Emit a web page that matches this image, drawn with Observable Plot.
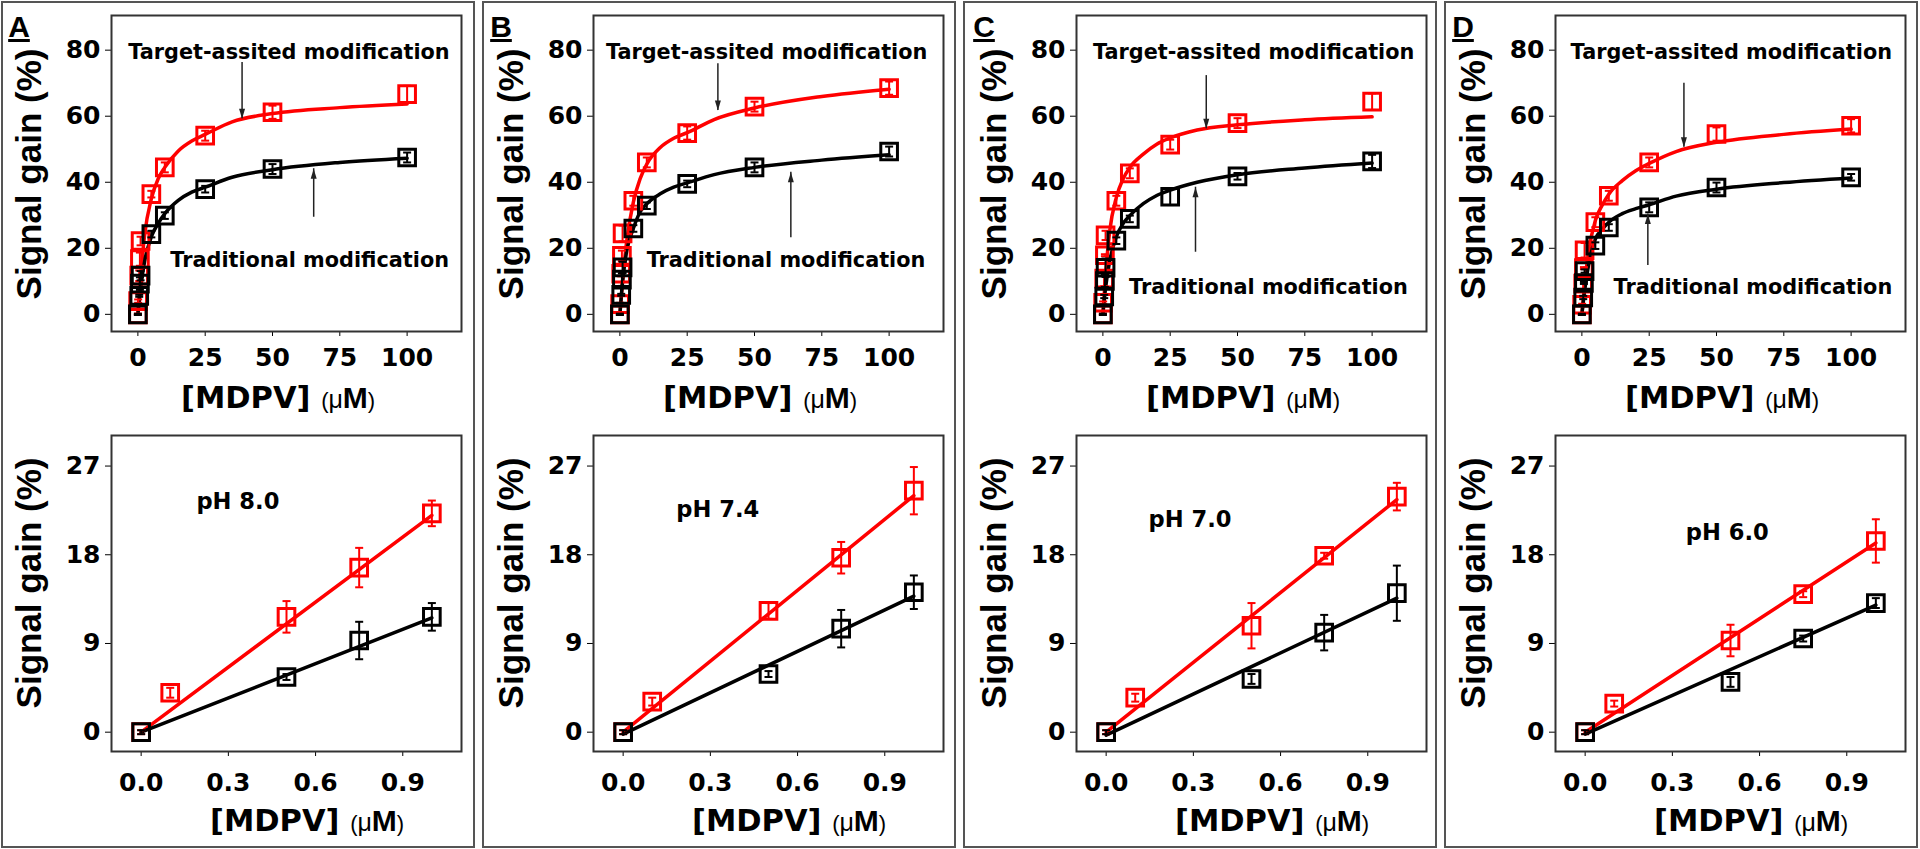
<!DOCTYPE html>
<html><head><meta charset="utf-8">
<script src="https://cdn.jsdelivr.net/npm/d3@7"></script>
<script src="https://cdn.jsdelivr.net/npm/@observablehq/plot@0.6"></script>
<style>
html,body{margin:0;padding:0;background:#fff;}
body{width:1920px;height:849px;position:relative;overflow:hidden;}
.box{position:absolute;border:2px solid #555;box-sizing:border-box;}
.pl{position:absolute;}
.pl svg{max-width:none;overflow:visible;display:block;}
</style></head><body>
<script>
// ---------- shared categories / ticks ----------
const panels = ["A", "B", "C", "D"];
const phLabels = ["pH 8.0", "pH 7.4", "pH 7.0", "pH 6.0"];
const concLow = [0, 0.1, 0.5, 0.75, 1];
const concHigh = [5, 10, 25, 50, 100];
const fitConc = [0, 1, 2.5, 5, 7.5, 10, 15, 20, 25, 35, 50, 75, 100];
const lineConc = [0, 1];
const xTicksTop = [0, 25, 50, 75, 100];
const yTicksTop = [0, 20, 40, 60, 80];
const xTicksBottom = [0, 0.3, 0.6, 0.9];
const yTicksBottom = [0, 9, 18, 27];
const targetText = "Target-assited modification";
const tradText = "Traditional modification";

// ---------- Panel A (pH 8.0) ----------
const A_redLow = [0, 4.0, 11.7, 16.7, 22.2];
const A_redLowErr = [0.2, 0.5, 1.6, 2.0, 1.3];
const A_blackLow = [0, null, 5.6, 9.3, 11.7];
const A_blackLowErr = [0.2, null, 0.3, 1.9, 1.4];
const A_redHigh = [36.4, 44.5, 54.1, 61.2, 66.7];
const A_redHighErr = [1.0, 1.5, 1.5, 2.0, 2.5];
const A_blackHigh = [24.3, 29.9, 37.9, 44.0, 47.5];
const A_blackHighErr = [1.0, 1.0, 1.0, 1.5, 1.5];
const A_redFit = [0, 11, 24, 35, 41, 44.5, 49.5, 52.5, 54.5, 58.3, 60.8, 62.6, 63.7];
const A_blackFit = [0, 8, 16, 23.5, 27.5, 30.5, 34.5, 37, 38.5, 41.5, 43.8, 46, 47.3];
const A_redLine = [0, 22.0];
const A_blackLine = [0, 11.6];

// ---------- Panel B (pH 7.4) ----------
const B_redLow = [0, 3.1, 12.3, 17.7, 24.5];
const B_redLowErr = [0.2, 0.4, 0.8, 1.6, 2.4];
const B_blackLow = [0, null, 5.9, 10.5, 14.2];
const B_blackLowErr = [0.2, null, 0.3, 1.9, 1.7];
const B_redHigh = [34.4, 46.0, 54.9, 62.9, 68.5];
const B_redHighErr = [1.5, 1.5, 2.0, 1.5, 2.0];
const B_blackHigh = [26.0, 32.9, 39.5, 44.5, 49.3];
const B_blackHighErr = [1.0, 1.0, 1.0, 1.5, 1.5];
const B_redFit = [0, 10, 22, 34, 41, 45.5, 50.5, 53.3, 55, 59, 62.5, 66, 68.2];
const B_blackFit = [0, 10, 19, 26, 31, 33.5, 36.5, 38.5, 39.8, 42.3, 44.5, 46.7, 48.3];
const B_redLine = [0, 24.0];
const B_blackLine = [-0.2, 13.8];

// ---------- Panel C (pH 7.0) ----------
const C_redLow = [0, 3.5, 10.8, 17.9, 23.9];
const C_redLowErr = [0.2, 0.4, 2.3, 0.3, 1.4];
const C_blackLow = [0, null, 5.4, 10.1, 14.1];
const C_blackLowErr = [0.2, null, 0.5, 1.8, 2.8];
const C_redHigh = [34.4, 42.7, 51.4, 57.9, 64.4];
const C_redHighErr = [1.5, 1.5, 1.5, 1.5, 2.5];
const C_blackHigh = [22.3, 28.9, 35.6, 41.8, 46.3];
const C_blackHighErr = [1.0, 1.0, 2.5, 1.0, 2.0];
const C_redFit = [0, 12, 25, 35.4, 41, 44.5, 48.5, 51.5, 53.4, 55.8, 57.4, 58.9, 59.8];
const C_blackFit = [0, 8, 16, 23.5, 27.5, 29.9, 33.5, 36, 37.6, 40, 42.3, 44.3, 45.8];
const C_redLine = [0, 23.6];
const C_blackLine = [-0.3, 13.6];

// ---------- Panel D (pH 6.0) ----------
const D_redLow = [0, 2.9, 9.3, 14.0, 19.4];
const D_redLowErr = [0.2, 0.3, 1.6, 0.3, 2.2];
const D_blackLow = [0, null, 5.1, 9.5, 13.1];
const D_blackLowErr = [0.2, null, 0.5, 0.3, 0.5];
const D_redHigh = [27.9, 35.9, 46.0, 54.6, 57.1];
const D_redHighErr = [1.5, 1.5, 1.5, 2.0, 2.0];
const D_blackHigh = [20.8, 26.3, 32.4, 38.4, 41.5];
const D_blackHighErr = [1.0, 1.0, 1.5, 1.5, 1.0];
const D_redFit = [0, 9, 19, 28.4, 33, 36.4, 40.5, 43.5, 45.7, 49.3, 52.1, 54.5, 56.1];
const D_blackFit = [0, 7, 15, 22.8, 25.7, 27.9, 30.5, 32, 33.2, 35.8, 37.9, 39.9, 41.3];
const D_redLine = [0, 19.2];
const D_blackLine = [-0.2, 12.9];

// ---------- annotations (data units) ----------
const targetLabelX = [56.1, 54.5, 56.0, 55.5];
const targetLabelY = [79.4, 79.4, 79.4, 79.4];
const tradLabelX = [63.8, 61.7, 61.5, 63.5];
const tradLabelY = [16.3, 16.3, 8.2, 8.2];
const redArrowX = [38.7, 36.4, 38.4, 37.9];
const redArrowFrom = [76.3, 75.9, 72.3, 70.0];
const redArrowTo = [59.2, 61.7, 56.2, 50.6];
const blackArrowX = [65.3, 63.5, 34.4, 24.5];
const blackArrowFrom = [29.4, 23.2, 18.8, 14.8];
const blackArrowTo = [44.1, 43.0, 38.5, 30.4];
const phLabelX = [0.19, 0.183, 0.146, 0.346];
const phLabelY = [23.4, 22.6, 21.6, 20.2];

// ---------- layout (pixels) ----------
const boxLeft = [1, 482, 963, 1444];
const frameLeft = [111, 593, 1076, 1555];
const RED = "#ff0000", BLACK = "#000000", ARROW = "#222222";

const S = {
  A: [A_redLow, A_redLowErr, A_blackLow, A_blackLowErr, A_redHigh, A_redHighErr, A_blackHigh, A_blackHighErr, A_redFit, A_blackFit, A_redLine, A_blackLine],
  B: [B_redLow, B_redLowErr, B_blackLow, B_blackLowErr, B_redHigh, B_redHighErr, B_blackHigh, B_blackHighErr, B_redFit, B_blackFit, B_redLine, B_blackLine],
  C: [C_redLow, C_redLowErr, C_blackLow, C_blackLowErr, C_redHigh, C_redHighErr, C_blackHigh, C_blackHighErr, C_redFit, C_blackFit, C_redLine, C_blackLine],
  D: [D_redLow, D_redLowErr, D_blackLow, D_blackLowErr, D_redHigh, D_redHighErr, D_blackHigh, D_blackHighErr, D_redFit, D_blackFit, D_redLine, D_blackLine]
};

// horizontal cap for error bars
const capSymbol = {draw(ctx, size) { const r = Math.sqrt(size / Math.PI); ctx.moveTo(-r, 0); ctx.lineTo(r, 0); }};
// narrow filled arrow head, tip at the point, pointing down (rotate 180 for up)
const headSymbol = {draw(ctx, size) { const r = Math.sqrt(size / Math.PI); ctx.moveTo(0, 0); ctx.lineTo(-0.3 * r, -r); ctx.lineTo(0.3 * r, -r); ctx.closePath(); }};

function pts(xs, ys, es) {
  return xs.map((x, k) => ({x, y: ys[k], e: es[k]})).filter(d => d.y != null);
}
function curvePts(xs, ys) { return xs.map((x, k) => ({x, y: ys[k]})); }

function pointMarks(data, color) {
  return [
    Plot.ruleX(data, {x: "x", y1: d => d.y - d.e, y2: d => d.y + d.e, stroke: color, strokeWidth: 2}),
    Plot.dot(data, {x: "x", y: d => d.y + d.e, symbol: capSymbol, r: 4, stroke: color, fill: "none", strokeWidth: 2}),
    Plot.dot(data, {x: "x", y: d => d.y - d.e, symbol: capSymbol, r: 4, stroke: color, fill: "none", strokeWidth: 2}),
    Plot.dot(data, {x: "x", y: "y", symbol: "square", r: 9.4, stroke: color, fill: "none", strokeWidth: 3})
  ];
}
function arrowMarks(a) {
  const up = a.y2 > a.y1;
  return [
    Plot.ruleX([a], {x: "x", y1: "y1", y2: "y2", stroke: ARROW, strokeWidth: 1.5}),
    Plot.dot([a], {x: "x", y: "y2", symbol: headSymbol, r: 10, fill: ARROW, stroke: "none", rotate: up ? 180 : 0})
  ];
}

const baseStyle = {fontFamily: "'DejaVu Sans', sans-serif", fontWeight: "bold", fontSize: "25px", color: "#000", background: "transparent", overflow: "visible"};
const LS = "'Liberation Sans', Arial, sans-serif";

function addYLabel(svg, cy) {
  d3.select(svg).append("text")
    .attr("transform", `translate(40,${cy}) rotate(-90)`)
    .attr("text-anchor", "middle")
    .style("font-family", LS)
    .style("font-weight", "bold").style("font-size", "35px").attr("fill", "#000")
    .text("Signal gain (%)");
}
function addXLabel(svg, x, y) {
  const t = d3.select(svg).append("text").attr("x", x).attr("y", y).attr("fill", "#000").attr("text-anchor", "start")
    .style("font-family", "'DejaVu Sans', sans-serif").style("font-weight", "bold").style("font-size", "30.5px");
  t.append("tspan").text("[MDPV] ");
  t.append("tspan").style("font-family", LS).style("font-weight", "normal").style("font-size", "22px").text("(");
  t.append("tspan").style("font-family", LS).style("font-weight", "normal").style("font-size", "25px").text("\u03bc");
  t.append("tspan").style("font-family", LS).style("font-weight", "bold").style("font-size", "30px").text("M");
  t.append("tspan").style("font-family", LS).style("font-weight", "normal").style("font-size", "22px").text(")");
}

panels.forEach((p, i) => {
  const [redLow, redLowErr, blackLow, blackLowErr, redHigh, redHighErr, blackHigh, blackHighErr, redFit, blackFit, redLine, blackLine] = S[p];

  const box = document.createElement("div");
  box.className = "box";
  Object.assign(box.style, {left: boxLeft[i] + "px", top: "1px", width: "474px", height: "847px"});
  document.body.appendChild(box);

  const redAll = pts(concLow, redLow, redLowErr).concat(pts(concHigh, redHigh, redHighErr));
  const blackAll = pts(concLow, blackLow, blackLowErr).concat(pts(concHigh, blackHigh, blackHighErr));
  const redArrow = {x: redArrowX[i], y1: redArrowFrom[i], y2: redArrowTo[i]};
  const blackArrow = {x: blackArrowX[i], y1: blackArrowFrom[i], y2: blackArrowTo[i]};

  const top = Plot.plot({
    width: 470, height: 421,
    marginLeft: 110, marginRight: 10, marginTop: 15, marginBottom: 90,
    style: baseStyle,
    x: {domain: [-9.8, 120.2], ticks: xTicksTop, label: null, tickSize: 5, tickPadding: 12},
    y: {domain: [-5.2, 90.5], ticks: yTicksTop, label: null, tickSize: 6, tickPadding: 5},
    marks: [
      Plot.frame({stroke: "#333", strokeWidth: 2}),
      Plot.line(curvePts(fitConc, redFit), {x: "x", y: "y", stroke: RED, strokeWidth: 3.5, curve: "monotone-x"}),
      Plot.line(curvePts(fitConc, blackFit), {x: "x", y: "y", stroke: BLACK, strokeWidth: 3.5, curve: "monotone-x"}),
      ...pointMarks(redAll, RED),
      ...pointMarks(blackAll, BLACK),
      ...arrowMarks(redArrow),
      ...arrowMarks(blackArrow),
      Plot.text([targetText], {x: () => targetLabelX[i], y: () => targetLabelY[i], text: d => d, fontSize: 20.8, fontWeight: "bold", fill: "#000", textAnchor: "middle"}),
      Plot.text([tradText], {x: () => tradLabelX[i], y: () => tradLabelY[i], text: d => d, fontSize: 20.8, fontWeight: "bold", fill: "#000", textAnchor: "middle"})
    ]
  });
  addYLabel(top, 174);
  addXLabel(top, 180, 408);
  d3.select(top).append("text").attr("x", 18).attr("y", 37)
    .style("font-family", LS).style("font-weight", "bold")
    .style("font-size", "30px").style("text-decoration", "underline").attr("fill", "#000").text(p);

  const bottom = Plot.plot({
    width: 470, height: 421,
    marginLeft: 110, marginRight: 10, marginTop: 15, marginBottom: 90,
    style: baseStyle,
    x: {domain: [-0.102, 1.102], ticks: xTicksBottom, tickFormat: d3.format(".1f"), label: null, tickSize: 5, tickPadding: 17},
    y: {domain: [-1.96, 30.1], ticks: yTicksBottom, label: null, tickSize: 6, tickPadding: 5},
    marks: [
      Plot.frame({stroke: "#333", strokeWidth: 2}),
      Plot.line(curvePts(lineConc, redLine), {x: "x", y: "y", stroke: RED, strokeWidth: 3.5}),
      Plot.line(curvePts(lineConc, blackLine), {x: "x", y: "y", stroke: BLACK, strokeWidth: 3.5}),
      ...pointMarks(pts(concLow, redLow, redLowErr), RED),
      ...pointMarks(pts(concLow, blackLow, blackLowErr), BLACK),
      Plot.text([phLabels[i]], {x: () => phLabelX[i], y: () => phLabelY[i], text: d => d, fontSize: 22.6, fontWeight: "bold", fill: "#000", textAnchor: "start"})
    ]
  });
  addYLabel(bottom, 163);
  addXLabel(bottom, 209, 411);

  const d1 = document.createElement("div");
  d1.className = "pl";
  Object.assign(d1.style, {left: (frameLeft[i] - 110) + "px", top: "0px"});
  d1.appendChild(top);
  document.body.appendChild(d1);

  const d2 = document.createElement("div");
  d2.className = "pl";
  Object.assign(d2.style, {left: (frameLeft[i] - 110) + "px", top: "420px"});
  d2.appendChild(bottom);
  document.body.appendChild(d2);
});
</script>
</body></html>
